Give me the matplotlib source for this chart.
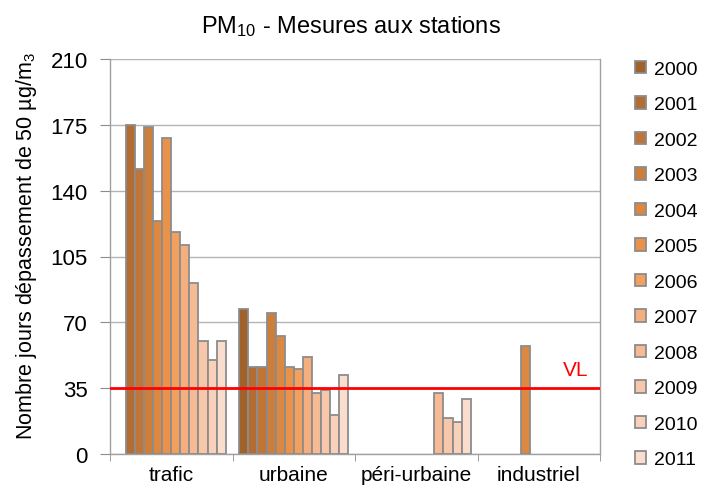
import numpy as np
import matplotlib
matplotlib.use("Agg")
import matplotlib.pyplot as plt

plt.rcParams['font.family'] = ['Liberation Sans', 'DejaVu Sans']
plt.rcParams['mathtext.fontset'] = 'custom'
plt.rcParams['mathtext.rm'] = 'Liberation Sans'
plt.rcParams['mathtext.it'] = 'Liberation Sans'

categories = ["trafic", "urbaine", "péri-urbaine", "industriel"]
years = ["2000", "2001", "2002", "2003", "2004", "2005", "2006", "2007",
         "2008", "2009", "2010", "2011"]
nan = np.nan
v2000 = [nan, 77, nan, nan]
v2001 = [175, 46, nan, nan]
v2002 = [151.5, 46.5, nan, nan]
v2003 = [174, 75, nan, nan]
v2004 = [124, 63, nan, 57.5]
v2005 = [168, 46.5, nan, nan]
v2006 = [118, 45, nan, nan]
v2007 = [111, 51.5, nan, nan]
v2008 = [91, 32.5, 32.5, nan]
v2009 = [60, 34, 19, nan]
v2010 = [50, 20.5, 17, nan]
v2011 = [60, 42, 29, nan]
series = [v2000, v2001, v2002, v2003, v2004, v2005, v2006, v2007,
          v2008, v2009, v2010, v2011]
colors = ["#A0612B", "#B36C31", "#C07536", "#CE7E3B", "#DC8841", "#EA9249",
          "#F3A05E", "#F5AE7E", "#F6BB95", "#F8C7AA", "#F9D1BA", "#FADDCD"]
vl_value = 35

fig = plt.figure(figsize=(7.02, 4.89), dpi=100)
ax = fig.add_axes([110/702, 34/489, 490/702, 395/489])

n = len(series)
bw = 0.0741
x = np.arange(len(categories))
for i, (vals, c, yr) in enumerate(zip(series, colors, years)):
    off = -n * bw / 2 + (i + 0.5) * bw
    ax.bar(x + off, vals, width=bw, color=c, edgecolor="#8C8C8C",
           linewidth=1.3, label=yr, zorder=3)

ax.axhline(vl_value, color="#FF0000", linewidth=2, zorder=4)
ax.text(3.3, vl_value + 5, "VL", color="#FF0000", fontsize=15,
        ha="center", va="bottom")

ax.set_xlim(-0.5, 3.5)
ax.set_ylim(0, 210)
ax.set_yticks(np.arange(0, 211, 35))
ax.yaxis.grid(True, color="#B4B4B4", linewidth=1, zorder=0)
ax.set_axisbelow(True)
ax.set_xticks(x)
ax.set_xticklabels(categories, fontsize=15)
ax.set_xticks(np.arange(-0.5, 3.6, 1), minor=True)
ax.tick_params(axis="x", which="major", length=0, pad=8)
ax.tick_params(axis="x", which="minor", length=5, color="#8C8C8C")
ax.tick_params(axis="y", labelsize=16, length=7, color="#8C8C8C", pad=9)

for s in ["left", "bottom", "right"]:
    ax.spines[s].set_color("#A0A0A0")
    ax.spines[s].set_linewidth(1)
ax.spines["top"].set_visible(False)

ax.set_ylabel("Nombre jours dépassement de 50 µg/m$_3$", fontsize=15.5,
              labelpad=8)
ax.yaxis.label.set_y(0.53)
fig.text(0.5, 0.945, "PM$_{10}$ - Mesures aux stations", fontsize=17,
         ha="center", va="center")

leg = ax.legend(loc="upper left", bbox_to_anchor=(1.055, 1.015), frameon=False,
                fontsize=14, handlelength=0.6, handleheight=0.6,
                handletextpad=0.4, labelspacing=0.95, borderaxespad=0)

fig.savefig("out.png", dpi=100)
